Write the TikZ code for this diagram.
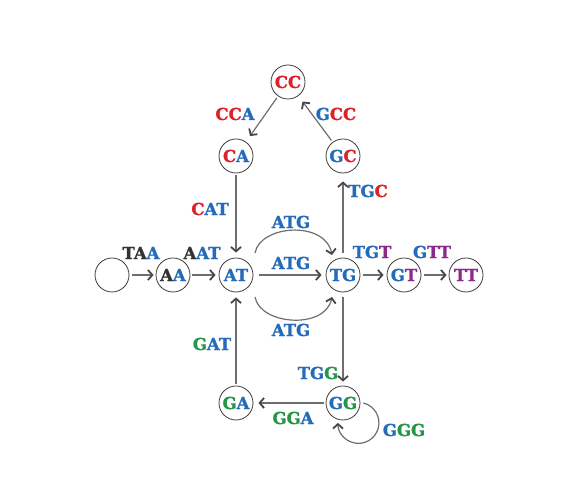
\documentclass[tikz,border=0pt]{standalone}
\usepackage{fontspec}
\setmainfont{DejaVu Serif}[BoldFeatures={FakeBold=1.3}]
\usetikzlibrary{arrows.meta}
\definecolor{cblue}{RGB}{36,108,186}
\definecolor{cred}{RGB}{222,32,40}
\definecolor{cgreen}{RGB}{36,150,72}
\definecolor{cpurple}{RGB}{138,40,140}
\definecolor{cdark}{RGB}{50,50,50}
\definecolor{circ}{RGB}{60,60,60}
\definecolor{lgray}{RGB}{110,110,110}
\definecolor{agray}{RGB}{70,70,70}
\newcommand\Bl[1]{\textcolor{cblue}{#1}}
\newcommand\Rd[1]{\textcolor{cred}{#1}}
\newcommand\Gn[1]{\textcolor{cgreen}{#1}}
\newcommand\Pu[1]{\textcolor{cpurple}{#1}}
\newcommand\Dk[1]{\textcolor{cdark}{#1}}
\newcommand\lblfont{\fontsize{16.5}{18}\selectfont\bfseries}
\begin{document}
\begin{tikzpicture}[x=1pt,y=1pt,
  st/.style={circle,draw=circ,line width=0.8pt,minimum size=34pt,inner sep=0pt,font=\lblfont},
  lab/.style={inner sep=0pt,font=\lblfont},
  edge/.style={draw=lgray,line width=1.2pt,
    -{Straight Barb[length=4.5pt,width=10pt,line width=1.8pt,color=agray]}}]
\useasboundingbox (0,0) rectangle (576,503);
% states
\node[st] (E)  at (112,228) {};
\node[st] (AA) at (173,228) {\Dk{A}\Bl{A}};
\node[st] (AT) at (236,228) {\Bl{AT}};
\node[st] (TG) at (343,228) {\Bl{TG}};
\node[st] (GT) at (404,228) {\Bl{G}\Pu{T}};
\node[st] (TT) at (466,228) {\Pu{TT}};
\node[st] (CA) at (236,347) {\Rd{C}\Bl{A}};
\node[st] (CC) at (288,421) {\Rd{CC}};
\node[st] (GC) at (343,347) {\Bl{G}\Rd{C}};
\node[st] (GA) at (236,100) {\Gn{G}\Bl{A}};
\node[st] (GG) at (343,100) {\Bl{G}\Gn{G}};
% labels
\node[lab] (lTAA) at (141,250) {\Dk{TA}\Bl{A}};
\node[lab] (lAAT) at (202,250) {\Dk{A}\Bl{AT}};
\node[lab] (lCAT) at (210,294) {\Rd{C}\Bl{AT}};
\node[lab] (lGAT) at (212,159) {\Gn{G}\Bl{AT}};
\node[lab] (lATG1) at (291,281) {\Bl{ATG}};
\node[lab] (lATG2) at (291,240) {\Bl{ATG}};
\node[lab] (lATG3) at (291,173) {\Bl{ATG}};
\node[lab] (lTGT) at (372,251) {\Bl{TG}\Pu{T}};
\node[lab] (lGTT) at (432,251) {\Bl{G}\Pu{TT}};
\node[lab] (lTGC) at (368,312) {\Bl{TG}\Rd{C}};
\node[lab] (lCCA) at (235,389) {\Rd{CC}\Bl{A}};
\node[lab] (lGCC) at (336,389) {\Bl{G}\Rd{CC}};
\node[lab] (lTGG) at (318,130) {\Bl{TG}\Gn{G}};
\node[lab] (lGGA) at (293,85) {\Gn{GG}\Bl{A}};
\node[lab] (lGGG) at (404,73) {\Bl{G}\Gn{GG}};
% edges
\draw[edge,shorten <=3pt,shorten >=2pt] (E) -- (AA);
\draw[edge,shorten <=2pt,shorten >=3pt] (AA) -- (AT);
\draw[edge,shorten <=6pt,shorten >=4pt] (AT) -- (TG);
\draw[edge,shorten <=3pt,shorten >=3pt] (TG) -- (GT);
\draw[edge,shorten <=3pt,shorten >=2pt] (GT) -- (TT);
\draw[edge,shorten <=2pt,shorten >=5pt] (CA) -- (AT);
\draw[edge,shorten <=2pt,shorten >=5pt] (GA) -- (AT);
\draw[edge,shorten <=5pt,shorten >=8pt] (TG) -- (GC);
\draw[edge,shorten <=5pt,shorten >=4pt] (TG) -- (GG);
\draw[edge,shorten <=2pt,shorten >=5pt] (GG) -- (GA);
\draw[edge,shorten <=2pt,shorten >=7pt] (CC) -- (CA);
\draw[edge,shorten <=2pt,shorten >=7pt] (GC) -- (CC);
\draw[edge] ([shift={(19,22)}]AT.center) .. controls (260,278) and (325,283) .. ([shift={(-11,20)}]TG.center);
\draw[edge] ([shift={(19,-22)}]AT.center) .. controls (260,178) and (325,173) .. ([shift={(-11,-22)}]TG.center);
\draw[edge] ([xshift=3pt]GG.east) arc[start angle=76, end angle=-180, radius=20.5];
\end{tikzpicture}
\end{document}
